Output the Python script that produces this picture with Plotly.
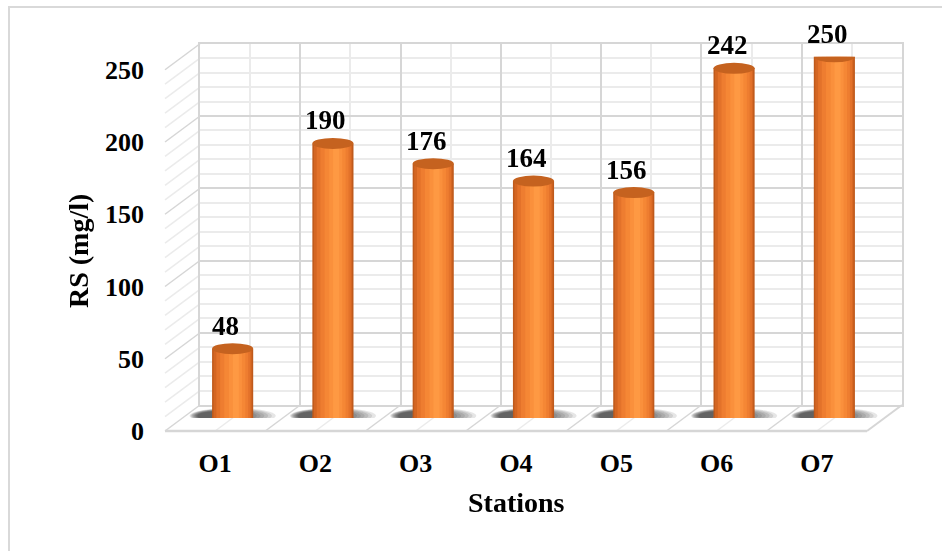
import plotly.graph_objects as go

# ---------------- data ----------------
stations = ["O1", "O2", "O3", "O4", "O5", "O6", "O7"]
rs_values = [48, 190, 176, 164, 156, 242, 250]
y_ticks = [0, 50, 100, 150, 200, 250]
x_title = "Stations"
y_title = "RS (mg/l)"

# ---------------- geometry (pixels) ----------------
W, H = 942, 551
FONT = "Liberation Serif"
FRONT_L, FRONT_R = 165, 867      # front floor edge
FLOOR_FRONT = 431                # y pixel of front floor edge
DX, DY = 35, 26                  # depth offset (front -> back)
PPU = 1.445                      # pixels per unit
YMAX = 250
N = len(stations)
CW = (FRONT_R - FRONT_L) / N     # category width in px


def px(x):
    return x / W


def py(y):
    return 1 - y / H


grid_major = "#d6d6d6"
grid_minor = "#ebebeb"

fig = go.Figure()

# back wall subplot (x, y) -- grid only
fig.add_trace(go.Scatter(x=[-0.5, 6.5], y=[0, YMAX], mode="markers", opacity=0,
                         hoverinfo="skip", showlegend=False, xaxis="x", yaxis="y"))
# front subplot (x2, y2) -- tick labels only
fig.add_trace(go.Scatter(x=stations, y=rs_values, mode="markers", opacity=0,
                         hoverinfo="skip", showlegend=False, xaxis="x2", yaxis="y2"))

# cylinder bars (x3, y3) -- stacked shading layers
layers = [
    (0.41, 0.0, "#bf5a1c"),
    (0.38, 0.0, "#d46623"),
    (0.34, 0.008, "#e3722a"),
    (0.28, 0.015, "#ee7d30"),
    (0.21, 0.022, "#f58735"),
    (0.13, 0.028, "#fa903c"),
    (0.06, 0.032, "#fe9943"),
]
for w, s, c in layers:
    fig.add_trace(go.Bar(x=stations, y=rs_values, width=w, offset=-w / 2 + s,
                         marker=dict(color=c, line=dict(width=0)),
                         hoverinfo="skip", showlegend=False,
                         xaxis="x3", yaxis="y3"))

shapes = []
# chart border
shapes.append(dict(type="rect", xref="paper", yref="paper",
                   x0=px(9), x1=px(W + 20), y0=py(7), y1=py(H + 20),
                   line=dict(color="#d9d9d9", width=2), layer="below"))
# left side wall lines
for v in range(0, YMAX + 1, 10):
    yf = FLOOR_FRONT - v * PPU
    shapes.append(dict(type="line", xref="paper", yref="paper",
                       x0=px(FRONT_L), y0=py(yf), x1=px(FRONT_L + DX), y1=py(yf - DY),
                       line=dict(color=grid_major if v % 50 == 0 else grid_minor, width=1.5),
                       layer="below"))
# floor
for k in range(1, 2 * N):
    xf = FRONT_L + k * CW / 2
    shapes.append(dict(type="line", xref="paper", yref="paper",
                       x0=px(xf), y0=py(FLOOR_FRONT), x1=px(xf + DX), y1=py(FLOOR_FRONT - DY),
                       line=dict(color=grid_major if k % 2 == 0 else grid_minor, width=1.5),
                       layer="below"))
shapes.append(dict(type="line", xref="paper", yref="paper",
                   x0=px(FRONT_R), y0=py(FLOOR_FRONT), x1=px(FRONT_R + DX), y1=py(FLOOR_FRONT - DY),
                   line=dict(color=grid_major, width=2), layer="below"))
shapes.append(dict(type="line", xref="paper", yref="paper",
                   x0=px(FRONT_L), y0=py(FLOOR_FRONT), x1=px(FRONT_R), y1=py(FLOOR_FRONT),
                   line=dict(color=grid_major, width=2.5), layer="below"))

# shadows, bottoms and tops of cylinders
eh = 5.5 / PPU
shadow_rings = []
for j in range(10):
    t = j / 9.0
    shadow_rings.append((-0.13 * t, 0.43 - 0.21 * t, 5.4 - 2.2 * t, 0.11))
for i, v in enumerate(rs_values):
    for dx, sw, sh, op in shadow_rings:
        shapes.append(dict(type="circle", xref="x3", yref="y3",
                           x0=i + dx - sw, x1=i + dx + sw,
                           y0=1.5 - sh, y1=1.5 + sh,
                           fillcolor="rgba(30,30,30,%s)" % op, line=dict(width=0),
                           layer="below"))
    shapes.append(dict(type="circle", xref="x3", yref="y3",
                       x0=i - 0.205, x1=i + 0.205, y0=-eh, y1=eh,
                       fillcolor="#d8681f", line=dict(width=0), layer="below"))
    shapes.append(dict(type="circle", xref="x3", yref="y3",
                       x0=i - 0.205, x1=i + 0.205, y0=v - eh, y1=v + eh,
                       fillcolor="#c5621f", line=dict(width=0), layer="above"))

annotations = []
for st, v in zip(stations, rs_values):
    annotations.append(dict(x=st, y=v, xref="x3", yref="y3", text="<b>%d</b>" % v,
                            showarrow=False, yanchor="bottom", yshift=6, xshift=-7,
                            font=dict(family=FONT, size=27, color="black")))
annotations.append(dict(x=px((FRONT_L + FRONT_R) / 2), y=py(502), xref="paper", yref="paper",
                        text="<b>%s</b>" % x_title, showarrow=False,
                        xanchor="center", yanchor="middle",
                        font=dict(family=FONT, size=28, color="black")))
annotations.append(dict(x=px(78), y=py(251), xref="paper", yref="paper",
                        text="<b>%s</b>" % y_title, showarrow=False, textangle=-90,
                        xanchor="center", yanchor="middle",
                        font=dict(family=FONT, size=28, color="black")))

tickfont = dict(family=FONT, size=26, color="black", weight="bold")

fig.update_layout(
    template="none",
    width=W, height=H, autosize=False,
    margin=dict(l=0, r=0, t=0, b=0, pad=0),
    paper_bgcolor="white", plot_bgcolor="rgba(0,0,0,0)",
    barmode="overlay", hovermode=False, showlegend=False,
    xaxis=dict(domain=[px(FRONT_L + DX), px(FRONT_R + DX)], range=[-0.5, N - 0.5],
               tick0=-0.5, dtick=1, showgrid=True, gridcolor=grid_major, gridwidth=1.5,
               minor=dict(dtick=0.5, showgrid=True, gridcolor=grid_minor, gridwidth=1.5),
               showticklabels=False, ticks="", zeroline=False,
               showline=True, mirror=True, linecolor=grid_major, linewidth=1.5,
               anchor="y", fixedrange=True, automargin=False),
    yaxis=dict(domain=[py(FLOOR_FRONT - DY), py(FLOOR_FRONT - DY - YMAX * PPU)],
               range=[0, YMAX], tick0=0, dtick=50, showgrid=True, gridcolor=grid_major,
               gridwidth=1.5,
               minor=dict(dtick=10, showgrid=True, gridcolor=grid_minor, gridwidth=1.5),
               showticklabels=False, ticks="", zeroline=False,
               showline=True, mirror=True, linecolor=grid_major, linewidth=1.5,
               anchor="x", fixedrange=True, automargin=False),
    xaxis2=dict(domain=[px(FRONT_L), px(FRONT_R)], type="category", range=[-0.5, N - 0.5],
                showgrid=False, zeroline=False, showline=False, ticks="",
                tickfont=tickfont, ticklabelstandoff=14, anchor="y2", fixedrange=True,
                automargin=False),
    yaxis2=dict(domain=[py(FLOOR_FRONT), py(FLOOR_FRONT - YMAX * PPU)], range=[0, YMAX],
                tickvals=y_ticks, showgrid=False, zeroline=False, showline=False, ticks="",
                tickfont=tickfont, ticklabelstandoff=20, anchor="x2", fixedrange=True,
                automargin=False),
    xaxis3=dict(domain=[px(FRONT_L + DX / 2), px(FRONT_R + DX / 2)], type="category",
                range=[-0.5, N - 0.5], visible=False, anchor="y3", fixedrange=True,
                automargin=False),
    yaxis3=dict(domain=[py(FLOOR_FRONT - DY / 2), py(FLOOR_FRONT - DY / 2 - YMAX * PPU)],
                range=[0, YMAX], visible=False, anchor="x3", fixedrange=True,
                automargin=False),
    shapes=shapes,
    annotations=annotations,
)

fig.write_html("out.html")
